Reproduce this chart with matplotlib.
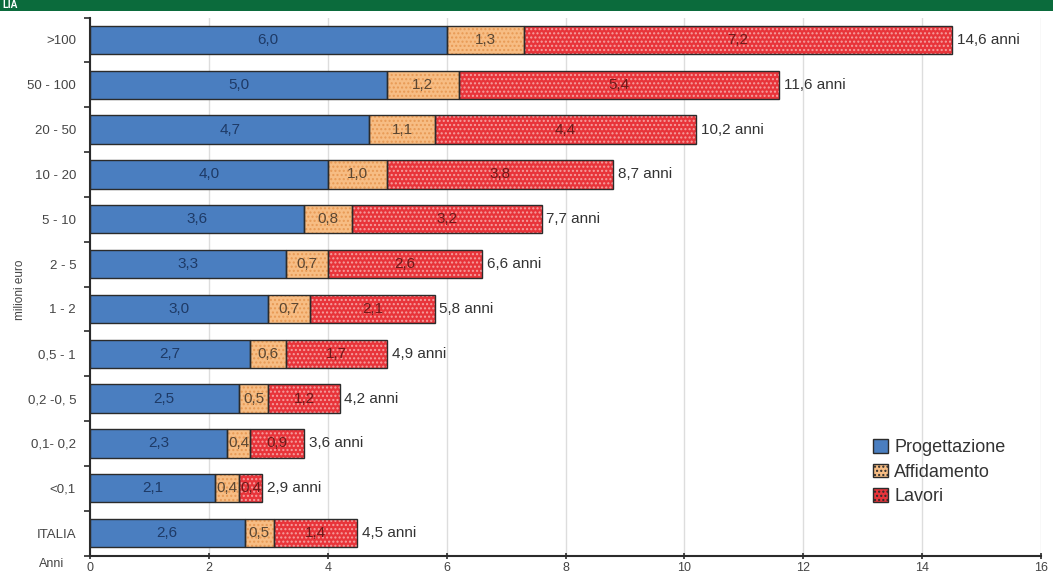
import matplotlib
matplotlib.use("Agg")
import matplotlib.pyplot as plt
from matplotlib.patches import Rectangle, Patch
import numpy as np

plt.rcParams["font.family"] = ["Liberation Sans", "DejaVu Sans"]

categories = [">100", "50 - 100", "20 - 50", "10 - 20", "5 - 10", "2 - 5", "1 - 2",
              "0,5 - 1", "0,2 -0, 5", "0,1- 0,2", "<0,1", "ITALIA"]
progettazione = [6.0, 5.0, 4.7, 4.0, 3.6, 3.3, 3.0, 2.7, 2.5, 2.3, 2.1, 2.6]
affidamento = [1.3, 1.2, 1.1, 1.0, 0.8, 0.7, 0.7, 0.6, 0.5, 0.4, 0.4, 0.5]
lavori = [7.2, 5.4, 4.4, 3.8, 3.2, 2.6, 2.1, 1.7, 1.2, 0.9, 0.4, 1.4]
totali = [14.6, 11.6, 10.2, 8.7, 7.7, 6.6, 5.8, 4.9, 4.2, 3.6, 2.9, 4.5]
x_ticks = [0, 2, 4, 6, 8, 10, 12, 14, 16]

W, H = 1053, 575
fig = plt.figure(figsize=(W / 100, H / 100), dpi=100)
fig.patch.set_facecolor("white")
ax = fig.add_axes([90 / W, 1 - 555.5 / H, (1041 - 90) / W, (555.5 - 17.5) / H])

blue = "#4a7ec0"
orange = "#f7bd84"
red = "#e8343a"
edge = "#2b2b2b"

n = len(categories)
y = np.arange(n)
h = 0.63

def fmt(v):
    return f"{v:.1f}".replace(".", ",")

segs = [(progettazione, blue, None, None, "#1e3a66"),
        (affidamento, orange, "....", "#e89a55", "#5a4632"),
        (lavori, red, "....", "#f5a0a0", "#6e1a1a")]
left = np.zeros(n)
for vals, fc, hatch, hc, tc in segs:
    vals = np.array(vals)
    if hatch:
        ax.barh(y, vals, left=left, height=h, color=fc, edgecolor=hc, linewidth=0,
                hatch=hatch, zorder=2)
    else:
        ax.barh(y, vals, left=left, height=h, color=fc, linewidth=0, zorder=2)
    ax.barh(y, vals, left=left, height=h, fill=False, edgecolor=edge, linewidth=1.0, zorder=3)
    for i in range(n):
        ax.text(left[i] + vals[i] / 2, y[i], fmt(vals[i]), ha="center", va="center",
                fontsize=11, color=tc, zorder=4)
    left = left + vals

for i in range(n):
    ax.text(left[i] + 0.08, y[i], fmt(totali[i]) + " anni", ha="left", va="center",
            fontsize=11, color="#333333", zorder=4)

ax.set_xlim(0, 16)
ax.set_ylim(n - 0.5, -0.5)
ax.set_xticks(x_ticks)
ax.set_xticklabels([str(t) for t in x_ticks], fontsize=9, color="#444444")
ax.tick_params(axis="x", length=4, width=1.2, color=edge, pad=3, direction="inout")
ax.set_yticks(y)
ax.set_yticklabels(categories, fontsize=9.5, color="#444444")
ax.set_yticks(np.arange(-0.5, n, 1), minor=True)
ax.tick_params(axis="y", which="major", length=0, pad=10)
ax.tick_params(axis="y", which="minor", length=4, width=1.2, color=edge, direction="out")
ax.grid(axis="x", color="#dddddd", linewidth=1, zorder=0)
ax.set_axisbelow(True)
for s in ["top", "right"]:
    ax.spines[s].set_visible(False)
ax.spines["left"].set_color(edge)
ax.spines["bottom"].set_color(edge)
ax.spines["left"].set_linewidth(1.5)
ax.spines["bottom"].set_linewidth(1.5)

fig.text(20 / W, 1 - 290 / H, "milioni euro", rotation=90, ha="center", va="center",
         fontsize=8.5, color="#444444")
fig.text(52 / W, 1 - 564 / H, "Anni", ha="center", va="center", fontsize=9, color="#444444")

# top banner
fig.patches.append(Rectangle((0, 1 - 11 / H), 1, 11 / H, transform=fig.transFigure,
                             facecolor="#0b6b3c", edgecolor="none", zorder=5))
fig.text(2 / W, 1 - 5.5 / H, "LIA", ha="left", va="center", fontsize=7, fontweight="bold",
         color="white", zorder=6)

handles = [Patch(facecolor=blue, edgecolor=edge),
           Patch(facecolor=orange, edgecolor=edge, hatch="...."),
           Patch(facecolor=red, edgecolor=edge, hatch="....")]
leg = ax.legend(handles, ["Progettazione", "Affidamento", "Lavori"], loc="upper left",
                bbox_to_anchor=(857 / W, 1 - 423 / H), bbox_transform=fig.transFigure,
                frameon=False, fontsize=13, handlelength=0.8, handleheight=0.8,
                handletextpad=0.35, labelspacing=0.4)
for t in leg.get_texts():
    t.set_color("#333333")

fig.savefig("out.png", dpi=100)
